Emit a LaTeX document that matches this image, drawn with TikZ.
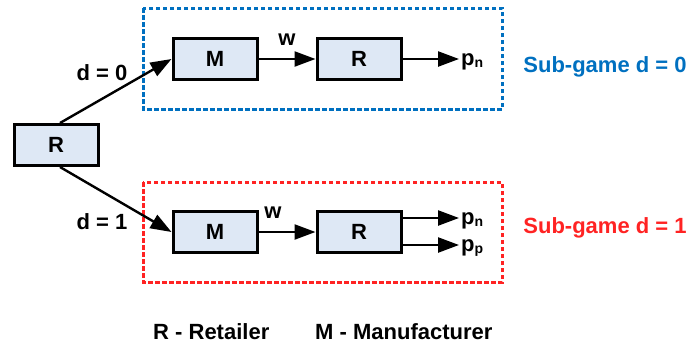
\documentclass[tikz,border=0pt]{standalone}
\usepackage{fontspec}
\setmainfont{Liberation Sans}
\usetikzlibrary{arrows.meta}
\definecolor{gameblue}{RGB}{0,112,192}
\definecolor{gamered}{RGB}{255,35,35}
\definecolor{boxfill}{RGB}{222,232,245}
% price with a small lowered index
\newcommand{\psub}[1]{p\raisebox{-2.5pt}{\fontsize{14}{14}\selectfont #1}}

\begin{document}
\begin{tikzpicture}[x=1pt, y=-1pt,
    every node/.style={font=\fontsize{22}{26}\selectfont\bfseries},
    player/.style={draw, line width=3pt, fill=boxfill, minimum width=84pt, minimum height=41pt, inner sep=0pt},
    arr/.style={line width=2.4pt, -{Triangle[length=21pt,width=15pt]}},
    frame/.style={line width=3pt, dash pattern=on 4.5pt off 2.5pt}]
  \useasboundingbox (0,0) rectangle (691,346);

  % the two sub-games
  \draw[frame, gameblue] (143,8) rectangle (502,109);
  \draw[frame, gamered] (143,182) rectangle (502,282);

  % players
  \node[player] (r0) at (56,145) {R};
  \node[player] (m0) at (215,59) {M};
  \node[player] (r1) at (359,59) {R};
  \node[player] (m1) at (215,232) {M};
  \node[player] (r2) at (359,232) {R};

  % prices
  \node[anchor=base west, inner sep=0pt] (pn0) at (461,65) {\psub{n}};
  \node[anchor=base west, inner sep=0pt] (pn1) at (461,224) {\psub{n}};
  \node[anchor=base west, inner sep=0pt] (pp1) at (461,251) {\psub{p}};
  \coordinate (tn0) at (459,59);
  \coordinate (tn1) at (459,218);
  \coordinate (tp1) at (459,245);

  \draw[arr] ([xshift=4pt]r0.north) -- (m0.west);
  \draw[arr] ([xshift=4pt]r0.south) -- (m1.west);
  \draw[arr] (m0) -- (r1);
  \draw[arr] (m1) -- (r2);
  \draw[arr] (r1.east |- tn0) -- (tn0);
  \draw[arr] (r2.east |- tn1) -- (tn1);
  \draw[arr] (r2.east |- tp1) -- (tp1);

  \node[anchor=base] (d0) at (102,80) {d = 0};
  \node[anchor=base] (d1) at (102,229) {d = 1};
  \node[anchor=base] (w0) at (287,45) {w};
  \node[anchor=base] (w1) at (273,218) {w};

  \node[anchor=base, text=gameblue] (g0) at (605,72) {Sub-game d = 0};
  \node[anchor=base, text=gamered] (g1) at (605,233) {Sub-game d = 1};

  % legend
  \node[anchor=base west, inner sep=0pt] (lr) at (153,339) {R - Retailer};
  \node[anchor=base west, inner sep=0pt] (lm) at (315,339) {M - Manufacturer};
\end{tikzpicture}
\end{document}
